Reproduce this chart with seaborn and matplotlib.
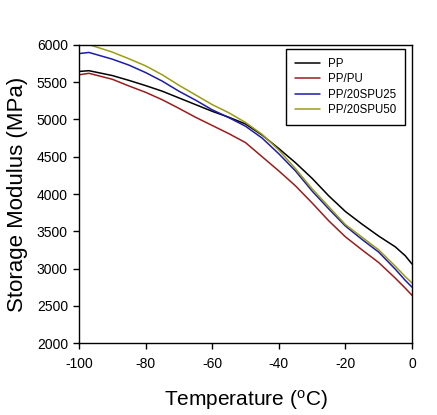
import numpy as np
import pandas as pd
import matplotlib
matplotlib.use("Agg")
import matplotlib.pyplot as plt
import seaborn as sns

# ---- data ----
temperature = [-100, -97, -90, -85, -80, -75, -70, -65, -60, -55, -50, -45,
               -40, -35, -30, -25, -20, -15, -10, -5, -2, 0]
pp = [5645, 5655, 5590, 5525, 5455, 5380, 5290, 5200, 5110, 5030, 4940, 4790,
      4610, 4420, 4210, 3975, 3765, 3595, 3435, 3290, 3170, 3060]
pp_pu = [5600, 5620, 5540, 5450, 5365, 5265, 5150, 5030, 4920, 4810, 4690, 4500,
         4310, 4110, 3880, 3640, 3425, 3250, 3080, 2870, 2735, 2640]
pp_spu25 = [5885, 5900, 5810, 5730, 5630, 5515, 5380, 5260, 5130, 5025, 4910, 4750,
            4540, 4310, 4040, 3800, 3570, 3390, 3220, 2990, 2840, 2750]
pp_spu50 = [5995, 6005, 5905, 5815, 5720, 5600, 5460, 5330, 5200, 5090, 4960, 4800,
            4590, 4340, 4070, 3830, 3590, 3420, 3250, 3030, 2890, 2805]
series_names = ["PP", "PP/PU", "PP/20SPU25", "PP/20SPU50"]
x_ticks = [-100, -80, -60, -40, -20, 0]
y_ticks = [2000, 2500, 3000, 3500, 4000, 4500, 5000, 5500, 6000]

frames = []
for name, vals in zip(series_names, [pp, pp_pu, pp_spu25, pp_spu50]):
    frames.append(pd.DataFrame({"Temperature": temperature, "Modulus": vals, "Sample": name}))
df = pd.concat(frames, ignore_index=True)

sns.set_style("ticks")
plt.rcParams["font.family"] = ["Liberation Sans", "DejaVu Sans"]
plt.rcParams["mathtext.fontset"] = "custom"
plt.rcParams["mathtext.rm"] = "Liberation Sans"
plt.rcParams["mathtext.it"] = "Liberation Sans"
plt.rcParams["axes.unicode_minus"] = False
plt.rcParams["text.color"] = "black"
plt.rcParams["axes.labelcolor"] = "black"
plt.rcParams["xtick.color"] = "black"
plt.rcParams["ytick.color"] = "black"

palette = {"PP": "#000000", "PP/PU": "#9b1c1c",
           "PP/20SPU25": "#1c1ca8", "PP/20SPU50": "#9c9c14"}

fig = plt.figure(figsize=(4.37, 4.15), dpi=100)
ax = fig.add_axes([79 / 437, 1 - 343 / 415, 333 / 437, 298 / 415])

sns.lineplot(data=df, x="Temperature", y="Modulus", hue="Sample",
             hue_order=series_names, palette=palette, linewidth=1.1, ax=ax)

ax.set_xlim(-100, 0)
ax.set_ylim(2000, 6000)
ax.set_xticks(x_ticks)
ax.set_yticks(y_ticks)
ax.tick_params(axis="both", direction="out", length=4, width=1, colors="black",
               labelcolor="black", labelsize=10, pad=4)
ax.tick_params(axis="x", pad=6)
for s in ax.spines.values():
    s.set_visible(True)
    s.set_color("black")
    s.set_linewidth(1.0)

ax.set_xlabel(r"Temperature ($^{\mathrm{o}}$C)", fontsize=15, labelpad=12, color="black")
ax.set_ylabel("Storage Modulus (MPa)", fontsize=16, labelpad=6, color="black")

leg = ax.legend(loc="upper left", bbox_to_anchor=(0.6216, 0.9866), borderaxespad=0,
                fontsize=8.3, frameon=True, fancybox=False, shadow=False,
                handlelength=2.2, handletextpad=0.7, labelspacing=0.3,
                borderpad=0.75, title=None)
leg.get_frame().set_edgecolor("black")
leg.get_frame().set_linewidth(1.0)
leg.get_frame().set_alpha(1)
for t in leg.get_texts():
    t.set_color("black")

fig.savefig("out.png", dpi=100)
